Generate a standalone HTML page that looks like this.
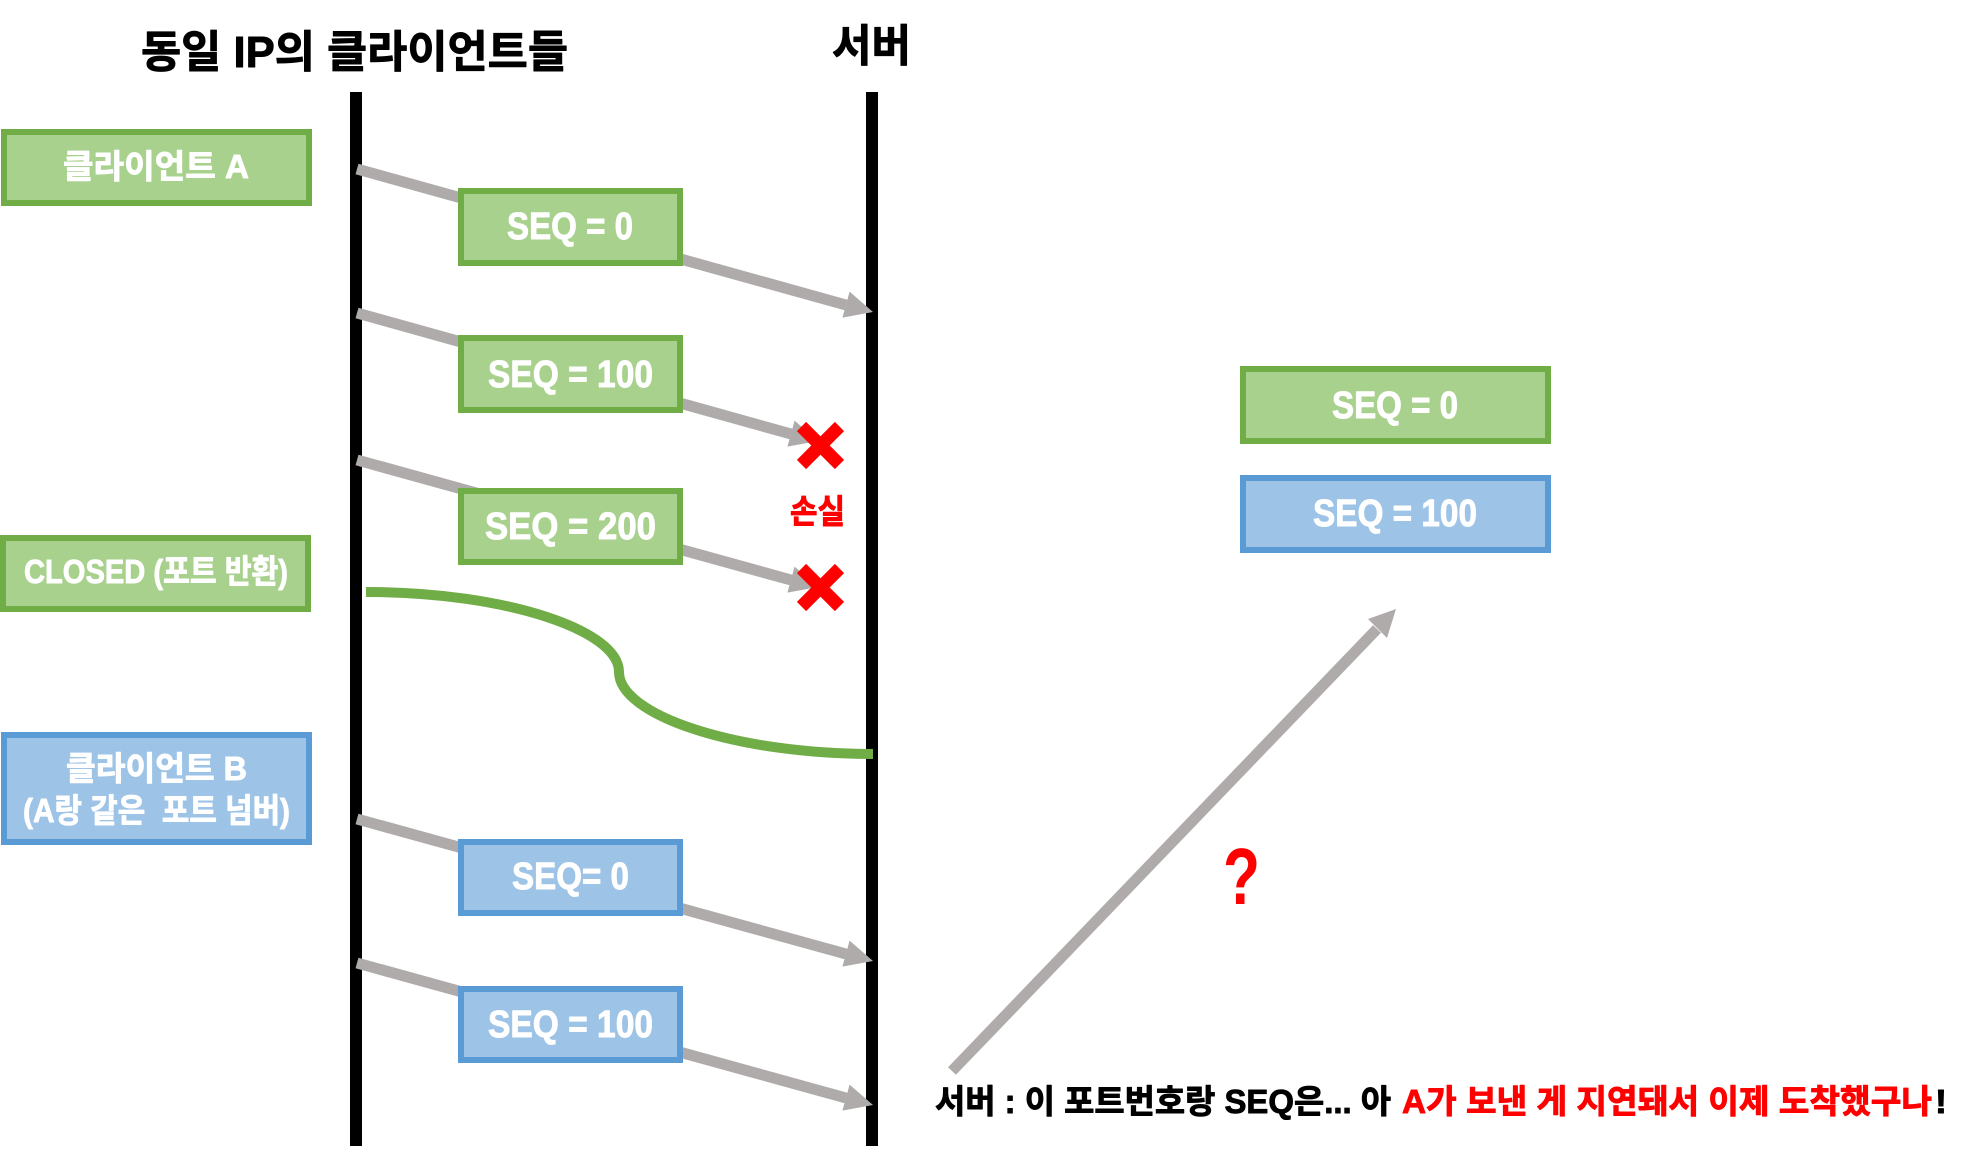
<!DOCTYPE html>
<html><head><meta charset="utf-8"><style>
html,body{margin:0;padding:0;background:#fff}
svg{display:block}
text{font-family:"Liberation Sans","Noto Sans CJK KR",sans-serif;font-weight:700;stroke-width:.9px;stroke-linejoin:round}
</style></head><body>
<svg width="1970" height="1153" viewBox="0 0 1970 1153" xmlns="http://www.w3.org/2000/svg">
<rect width="1970" height="1153" fill="#fff"/>
<rect x="350" y="92" width="12" height="1054" fill="#000"/>
<rect x="866" y="92" width="12" height="1054" fill="#000"/>
<g stroke="#AFABAB" stroke-width="11" fill="none">
<line x1="357" y1="169" x2="846" y2="305"/>
<line x1="357" y1="313" x2="791" y2="434"/>
<line x1="357" y1="460" x2="791" y2="580"/>
<line x1="357" y1="819" x2="846" y2="954"/>
<line x1="357" y1="963" x2="846" y2="1098"/>
<line x1="952" y1="1071" x2="1377" y2="629"/>
</g>
<g fill="#AFABAB">
<polygon points="873,312 842.4,317.6 849.6,291.6"/>
<polygon points="818,441 787.4,446.6 794.6,420.6"/>
<polygon points="818,587 787.4,592.6 794.6,566.6"/>
<polygon points="873,961 842.4,966.6 849.6,940.6"/>
<polygon points="873,1105 842.4,1110.6 849.6,1084.6"/>
<polygon points="1396,609 1368,619 1387,638"/>
</g>
<path d="M366 592 C505 592 619 630 619 672 C619 715 735 754 873 754" fill="none" stroke="#70AD47" stroke-width="10"/>
<g stroke="#70AD47" stroke-width="6" fill="#A9D18E">
<rect x="4" y="132" width="305" height="71"/>
<rect x="461" y="191" width="219" height="72"/>
<rect x="461" y="338" width="219" height="72"/>
<rect x="461" y="491" width="219" height="71"/>
<rect x="3" y="538" width="305" height="71"/>
<rect x="1243" y="369" width="305" height="72"/>
</g>
<g stroke="#5B9BD5" stroke-width="6" fill="#9DC3E6">
<rect x="4" y="735" width="305" height="107"/>
<rect x="461" y="842" width="219" height="71"/>
<rect x="461" y="989" width="219" height="71"/>
<rect x="1243" y="478" width="305" height="72"/>
</g>
<g stroke="#f00" stroke-width="13" fill="none">
<line x1="801.5" y1="426.5" x2="839.5" y2="464.5"/>
<line x1="839.5" y1="426.5" x2="801.5" y2="464.5"/>
<line x1="801.5" y1="568.5" x2="839.5" y2="606.5"/>
<line x1="839.5" y1="568.5" x2="801.5" y2="606.5"/>
</g>
<text x="141" y="67" font-size="44" textLength="427" lengthAdjust="spacingAndGlyphs" stroke="#000">동일 IP의 클라이언트들</text>
<text x="832" y="61" font-size="44" textLength="79" lengthAdjust="spacingAndGlyphs" stroke="#000">서버</text>
<g fill="#fff" stroke="#fff">
<text x="63" y="178" font-size="33" textLength="186" lengthAdjust="spacingAndGlyphs">클라이언트 A</text>
<text x="507" y="239" font-size="38" textLength="126" lengthAdjust="spacingAndGlyphs">SEQ = 0</text>
<text x="488" y="387" font-size="38" textLength="165" lengthAdjust="spacingAndGlyphs">SEQ = 100</text>
<text x="485" y="539" font-size="38" textLength="171" lengthAdjust="spacingAndGlyphs">SEQ = 200</text>
<text x="24" y="583" font-size="33" textLength="264" lengthAdjust="spacingAndGlyphs">CLOSED (포트 반환)</text>
<text x="66" y="780" font-size="33" textLength="181" lengthAdjust="spacingAndGlyphs">클라이언트 B</text>
<text x="23" y="822" font-size="33" textLength="267" lengthAdjust="spacingAndGlyphs">(A랑 같은&#160;&#160;포트 넘버)</text>
<text x="512" y="889" font-size="38" textLength="117" lengthAdjust="spacingAndGlyphs">SEQ= 0</text>
<text x="488" y="1037" font-size="38" textLength="165" lengthAdjust="spacingAndGlyphs">SEQ = 100</text>
<text x="1332" y="418" font-size="38" textLength="126" lengthAdjust="spacingAndGlyphs">SEQ = 0</text>
<text x="1313" y="526" font-size="38" textLength="164" lengthAdjust="spacingAndGlyphs">SEQ = 100</text>
</g>
<text x="790" y="523" font-size="33" fill="#f00" stroke="#f00" textLength="55" lengthAdjust="spacingAndGlyphs">손실</text>
<text x="1223" y="904" font-size="80" fill="#f00" textLength="37" lengthAdjust="spacingAndGlyphs">?</text>
<text x="935" y="1113" font-size="33" textLength="456" lengthAdjust="spacingAndGlyphs" stroke="#000">서버 : 이 포트번호랑 SEQ은... 아</text>
<text x="1402" y="1113" font-size="33" fill="#f00" stroke="#f00" textLength="530" lengthAdjust="spacingAndGlyphs">A가 보낸 게 지연돼서 이제 도착했구나</text>
<text x="1935" y="1113" font-size="33" textLength="12" lengthAdjust="spacingAndGlyphs" stroke="#000">!</text>
</svg>
</body></html>
